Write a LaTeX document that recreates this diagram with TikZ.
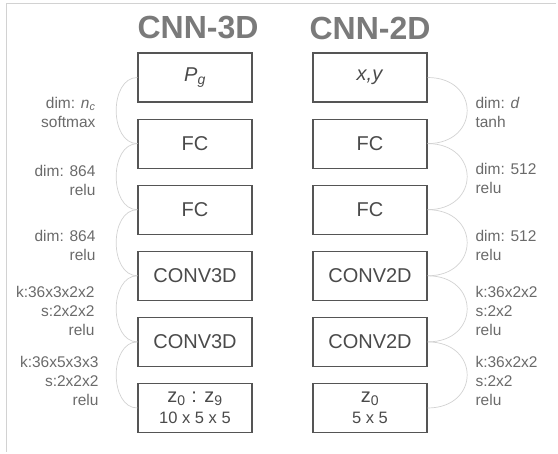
\documentclass[tikz,border=0pt]{standalone}
\usepackage{fontspec}
\setmainfont{Liberation Sans}
\usetikzlibrary{positioning}
\definecolor{boxline}{HTML}{555555}
\definecolor{boxtext}{HTML}{4A4A4A}
\definecolor{arcline}{HTML}{D2D2D2}
\definecolor{labeltext}{HTML}{6A6A6A}
\definecolor{titletext}{HTML}{7A7A7A}
\begin{document}
\begin{tikzpicture}[x=1pt,y=-1pt,
    layer/.style={draw=boxline,line width=1.1pt,minimum width=114pt,
      minimum height=49pt,inner sep=0pt,text=boxtext,align=center,
      font=\fontsize{20}{23}\selectfont},
    link/.style={draw=arcline,line width=0.7pt},
    lbl/.style={text=labeltext,font=\fontsize{15.5}{19}\selectfont},
    title/.style={text=titletext,font=\fontsize{32}{36}\selectfont\bfseries}]
  \useasboundingbox (0,0) rectangle (558,454);
  \draw[arcline,line width=0.8pt] (556,3) -- (6,3) -- (6,452);
  % CNN-3D
  \node[title] (t3d) at (198,28) {CNN-3D};
  \node[layer] (p3d) at (195,77.5) {\textit{P}\textsubscript{\textit{g}}};
  \node[layer,below=16pt of p3d] (fc3a) {FC};
  \node[layer,below=16pt of fc3a] (fc3b) {FC};
  \node[layer,below=16pt of fc3b] (conv3a) {CONV3D};
  \node[layer,below=16pt of conv3a] (conv3b) {CONV3D};
  \node[layer,below=16pt of conv3b] (z3d) {z\textsubscript{0} : z\textsubscript{9}\\[-2pt]
    {\fontsize{16.5}{18}\selectfont 10 x 5 x 5}};
  \draw[link] (p3d.west) to[out=180,in=180,looseness=1.1] (fc3a.west);
  \draw[link] (fc3a.west) to[out=180,in=180,looseness=1.1] (fc3b.west);
  \draw[link] (fc3b.west) to[out=180,in=180,looseness=1.1] (conv3a.west);
  \draw[link] (conv3a.west) to[out=180,in=180,looseness=1.1] (conv3b.west);
  \draw[link] (conv3b.west) to[out=180,in=180,looseness=1.1] (z3d.west);
  \node[lbl,align=right,anchor=east] (d3a) at (99,112) {dim: \textit{n}\textsubscript{\textit{c}}\\softmax};
  \node[lbl,align=right,anchor=east] (d3b) at (99,180) {dim: 864\\relu};
  \node[lbl,align=right,anchor=east] (d3c) at (99,245) {dim: 864\\relu};
  \node[lbl,align=right,anchor=east] (k3a) at (98,311) {k:36x3x2x2\\s:2x2x2\\relu};
  \node[lbl,align=right,anchor=east] (k3b) at (102,381) {k:36x5x3x3\\s:2x2x2\\relu};
  % CNN-2D
  \node[title] (t2d) at (370,28) {CNN-2D};
  \node[layer] (xy2d) at (370,77.5) {\textit{x,y}};
  \node[layer,below=16pt of xy2d] (fc2a) {FC};
  \node[layer,below=16pt of fc2a] (fc2b) {FC};
  \node[layer,below=16pt of fc2b] (conv2a) {CONV2D};
  \node[layer,below=16pt of conv2a] (conv2b) {CONV2D};
  \node[layer,below=16pt of conv2b] (z2d) {z\textsubscript{0}\\[-2pt]
    {\fontsize{16.5}{18}\selectfont 5 x 5}};
  \draw[link] (xy2d.east) to[out=0,in=0,looseness=2.05] (fc2a.east);
  \draw[link] (fc2a.east) to[out=0,in=0,looseness=2.05] (fc2b.east);
  \draw[link] (fc2b.east) to[out=0,in=0,looseness=2.05] (conv2a.east);
  \draw[link] (conv2a.east) to[out=0,in=0,looseness=2.05] (conv2b.east);
  \draw[link] (conv2b.east) to[out=0,in=0,looseness=2.05] (z2d.east);
  \node[lbl,align=left,anchor=west] (d2a) at (472,112) {dim: \textit{d}\\tanh};
  \node[lbl,align=left,anchor=west] (d2b) at (472,178) {dim: 512\\relu};
  \node[lbl,align=left,anchor=west] (d2c) at (472,245) {dim: 512\\relu};
  \node[lbl,align=left,anchor=west] (k2a) at (472,311) {k:36x2x2\\s:2x2\\relu};
  \node[lbl,align=left,anchor=west] (k2b) at (472,381) {k:36x2x2\\s:2x2\\relu};
\end{tikzpicture}
\end{document}
